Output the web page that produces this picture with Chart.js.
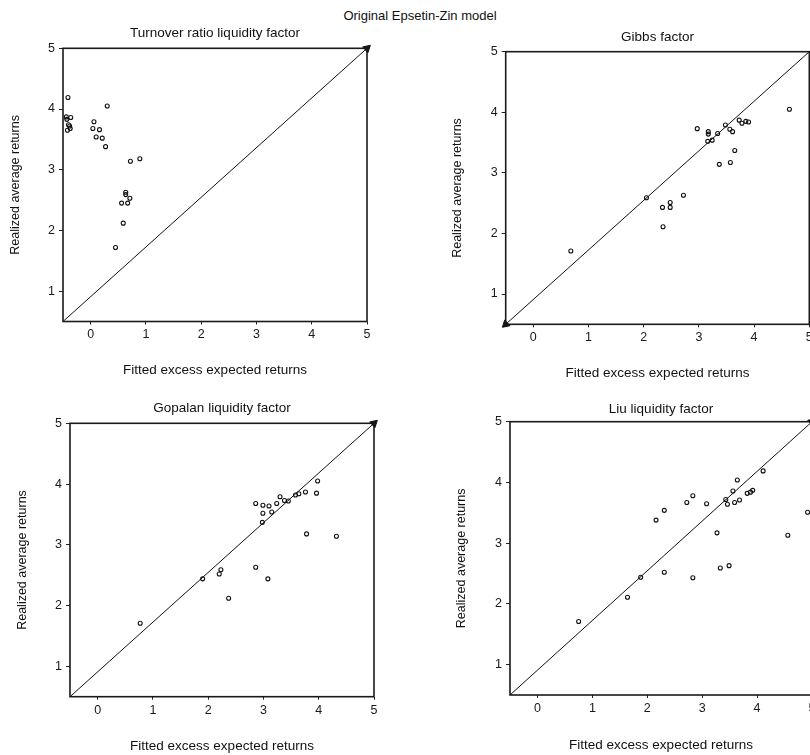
<!DOCTYPE html>
<html>
<head>
<meta charset="utf-8">
<script src="https://cdn.jsdelivr.net/npm/chart.js@4"></script>
<style>
  html, body { margin: 0; padding: 0; background: #fff; width: 810px; height: 755px; overflow: hidden; position: relative; }
  canvas { position: absolute; }
  #mainTitle { position: absolute; left: 0; width: 840px; top: 8px; text-align: center; font: 13px "Liberation Sans", Arial, sans-serif; color: #111; }
</style>
</head>
<body>
<div id="mainTitle">Original Epsetin-Zin model</div>
<canvas id="turnoverChart"></canvas>
<canvas id="gibbsChart"></canvas>
<canvas id="gopalanChart"></canvas>
<canvas id="liuChart"></canvas>
<script>
// Shared axis ticks and the 45-degree reference line ends
const xTicks = [0, 1, 2, 3, 4, 5];
const yTicks = [1, 2, 3, 4, 5];
const diagX = [-0.5, 5];
const diagY = [0.5, 5];

// Turnover ratio liquidity factor
const turnoverX = [-0.41, 0.30, -0.44, -0.36, -0.43, 0.06, -0.40, -0.38, 0.04, 0.16, -0.37, -0.42, 0.10, 0.21, 0.27, 0.72, 0.89, 0.635, 0.635, 0.71, 0.56, 0.67, 0.59, 0.45];
const turnoverY = [4.19, 4.05, 3.87, 3.86, 3.83, 3.79, 3.74, 3.72, 3.68, 3.66, 3.68, 3.65, 3.54, 3.52, 3.38, 3.14, 3.18, 2.63, 2.59, 2.53, 2.45, 2.45, 2.12, 1.72];

// Gibbs factor
const gibbsX = [4.64, 2.97, 3.17, 3.17, 3.16, 3.24, 3.34, 3.48, 3.56, 3.61, 3.73, 3.78, 3.85, 3.90, 3.65, 3.57, 3.37, 2.72, 2.05, 2.34, 2.48, 2.48, 2.35, 0.68];
const gibbsY = [4.05, 3.73, 3.68, 3.64, 3.52, 3.54, 3.65, 3.79, 3.72, 3.68, 3.87, 3.82, 3.85, 3.84, 3.37, 3.17, 3.14, 2.63, 2.59, 2.43, 2.51, 2.43, 2.11, 1.71];

// Gopalan liquidity factor
const gopalanX = [3.98, 3.76, 3.96, 3.58, 3.64, 3.30, 3.38, 3.45, 3.24, 2.86, 2.99, 3.10, 2.99, 3.15, 2.98, 3.78, 4.32, 2.86, 3.08, 2.23, 2.20, 1.90, 2.37, 0.77];
const gopalanY = [4.05, 3.87, 3.85, 3.82, 3.84, 3.79, 3.73, 3.72, 3.68, 3.68, 3.65, 3.64, 3.52, 3.54, 3.37, 3.18, 3.14, 2.63, 2.44, 2.59, 2.52, 2.44, 2.12, 1.71];

// Liu liquidity factor
const liuX = [4.11, 3.64, 3.56, 3.92, 3.88, 3.82, 3.43, 3.46, 3.59, 3.68, 2.83, 2.72, 3.08, 2.31, 2.16, 4.92, 3.27, 4.56, 3.49, 3.33, 2.31, 2.83, 1.88, 1.64, 0.75];
const liuY = [4.19, 4.04, 3.86, 3.87, 3.84, 3.82, 3.72, 3.64, 3.67, 3.71, 3.78, 3.67, 3.65, 3.54, 3.38, 3.51, 3.17, 3.13, 2.63, 2.59, 2.52, 2.43, 2.44, 2.11, 1.71];

const FONT = '"Liberation Sans", Arial, sans-serif';
const INK = '#111';

// draws the closed box around the plot area
const framePlugin = {
  id: 'frame',
  afterDatasetsDraw(chart) {
    const a = chart.chartArea;
    const ctx = chart.ctx;
    ctx.save();
    ctx.strokeStyle = '#1a1a1a';
    ctx.lineWidth = 1.6;
    ctx.strokeRect(a.left, a.top, a.right - a.left, a.bottom - a.top);
    ctx.restore();
  }
};

function toPoints(xs, ys) {
  return xs.map((x, i) => ({ x: x, y: ys[i] }));
}

// box: canvas placement, area: wanted plot rectangle, t: text centres (page coords)
function makePanel(id, title, xs, ys, box, area, t, arrowAtEnd) {
  const canvas = document.getElementById(id);
  canvas.width = box.width;
  canvas.height = box.height;
  canvas.style.left = box.left + 'px';
  canvas.style.top = box.top + 'px';

  const titleSize = 13.5, titleLH = titleSize * 1.2;
  const axisSize = 12.5, axisLH = axisSize * 1.2;
  const xTitleSize = 13.5, xTitleLH = xTitleSize * 1.2;
  const titleTop = t.title - box.top - titleLH / 2;
  const titleBottom = area.top - box.top - titleTop - titleLH;
  const yWidth = area.left - box.left;
  const xHeight = box.top + box.height - area.bottom;
  const rightPad = box.left + box.width - area.right;

  return new Chart(canvas, {
    type: 'scatter',
    data: {
      datasets: [
        {
          data: toPoints(xs, ys),
          pointStyle: 'circle',
          pointRadius: 2,
          pointBorderWidth: 1.1,
          borderColor: INK,
          backgroundColor: 'rgba(0,0,0,0)',
          clip: false
        },
        {
          data: toPoints(diagX, diagY),
          showLine: true,
          borderColor: INK,
          borderWidth: 1,
          backgroundColor: INK,
          pointStyle: 'triangle',
          pointRadius: arrowAtEnd ? [0, 4.5] : [4.5, 0],
          rotation: arrowAtEnd ? 48 : 228,
          clip: false
        }
      ]
    },
    options: {
      responsive: false,
      animation: false,
      devicePixelRatio: 1,
      layout: { padding: { left: 0, top: 0, right: rightPad, bottom: 0 } },
      plugins: {
        legend: { display: false },
        tooltip: { enabled: false },
        title: {
          display: true,
          text: title,
          fullSize: false,
          color: INK,
          font: { family: FONT, size: titleSize, weight: 'normal', lineHeight: 1.2 },
          padding: { top: titleTop, bottom: titleBottom }
        }
      },
      scales: {
        x: {
          type: 'linear',
          min: -0.5,
          max: 5,
          afterBuildTicks: s => { s.ticks = xTicks.map(v => ({ value: v })); },
          afterFit: s => { s.height = xHeight; },
          border: { display: false },
          grid: { drawOnChartArea: false, drawTicks: true, tickLength: 3, color: '#222' },
          ticks: { color: '#1a1a1a', padding: 3, maxRotation: 0, font: { family: FONT, size: 12.5 } },
          title: {
            display: true,
            text: 'Fitted excess expected returns',
            color: INK,
            font: { family: FONT, size: xTitleSize, lineHeight: 1.2 },
            padding: { top: 0, bottom: box.top + box.height - t.xTitle - xTitleLH / 2 }
          }
        },
        y: {
          type: 'linear',
          min: 0.5,
          max: 5,
          afterBuildTicks: s => { s.ticks = yTicks.map(v => ({ value: v })); },
          afterFit: s => { s.width = yWidth; },
          border: { display: false },
          grid: { drawOnChartArea: false, drawTicks: true, tickLength: 4, color: '#222' },
          ticks: { color: '#1a1a1a', padding: 4, font: { family: FONT, size: 12.5 } },
          title: {
            display: true,
            text: 'Realized average returns',
            color: INK,
            font: { family: FONT, size: axisSize, lineHeight: 1.2 },
            padding: { top: t.yTitle - box.left - axisLH / 2, bottom: 0 }
          }
        }
      }
    },
    plugins: [framePlugin]
  });
}

const turnoverChart = makePanel('turnoverChart', 'Turnover ratio liquidity factor', turnoverX, turnoverY,
  { left: 0, top: 20, width: 405, height: 360 },
  { left: 63, right: 367, top: 48.3, bottom: 321.5 },
  { title: 33, xTitle: 370, yTitle: 16 }, true);

const gibbsChart = makePanel('gibbsChart', 'Gibbs factor', gibbsX, gibbsY,
  { left: 405, top: 20, width: 425, height: 360 },
  { left: 505.7, right: 809.3, top: 51.7, bottom: 324.3 },
  { title: 37.7, xTitle: 373, yTitle: 457.7 }, false);

const gopalanChart = makePanel('gopalanChart', 'Gopalan liquidity factor', gopalanX, gopalanY,
  { left: 0, top: 390, width: 405, height: 365 },
  { left: 70, right: 374, top: 423.3, bottom: 696.7 },
  { title: 408, xTitle: 746.7, yTitle: 23 }, true);

const liuChart = makePanel('liuChart', 'Liu liquidity factor', liuX, liuY,
  { left: 405, top: 390, width: 425, height: 365 },
  { left: 510, right: 812, top: 421.7, bottom: 695 },
  { title: 409, xTitle: 745.7, yTitle: 461.7 }, true);
</script>
</body>
</html>
